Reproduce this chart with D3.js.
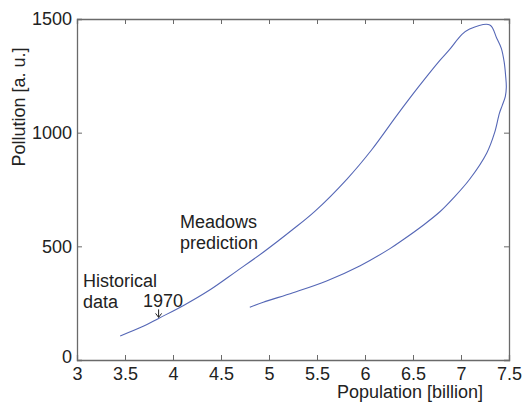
<!DOCTYPE html>
<html>
<head>
<meta charset="utf-8">
<script src="https://cdn.jsdelivr.net/npm/d3@7"></script>
<style>
  html, body { margin: 0; padding: 0; background: #fff; }
  svg { display: block; font-family: "Liberation Sans", Arial, sans-serif; }
</style>
</head>
<body>
<svg id="chart" width="526" height="403"></svg>
<script>
// Data
const population = [3.45, 3.69, 3.85, 4.11, 4.39, 4.66, 4.94, 5.25, 5.48, 5.81, 6.07, 6.33, 6.555, 6.78, 6.88, 7.01, 7.09, 7.30, 7.37, 7.42, 7.45, 7.465, 7.472, 7.462, 7.43, 7.40, 7.35, 7.27, 7.09, 6.92, 6.78, 6.61, 6.40, 6.26, 5.95, 5.60, 5.25, 4.94, 4.80];
const pollution  = [106, 148, 183, 240, 310, 390, 474, 575, 655, 795, 925, 1075, 1200, 1318, 1365, 1432, 1456, 1474, 1418, 1371, 1310, 1250, 1200, 1160, 1120, 1085, 1000, 912, 795, 712, 652, 594, 530, 490, 415, 348, 296, 254, 232];
const xTicks = [3, 3.5, 4, 4.5, 5, 5.5, 6, 6.5, 7, 7.5];
const yTicks = [0, 500, 1000, 1500];
const xLabel = "Population [billion]";
const yLabel = "Pollution [a. u.]";

(function () {
const svg = d3.select("#chart");
const mLeft = 77, mRight = 509, mTop = 19, mBottom = 360;
const x = d3.scaleLinear().domain([3, 7.5]).range([mLeft, mRight]);
const y = d3.scaleLinear().domain([0, 1500]).range([mBottom, mTop]);

const axisColor = "#6a6a6a";
const textColor = "#222";
const fs = 18;
const tickLen = 5;
const font = '"Liberation Sans", Arial, sans-serif';

// Curve
const pts = population.map((p, i) => [p, pollution[i]]);
svg.append("path")
  .datum(pts)
  .attr("fill", "none")
  .attr("stroke", "#5567b6")
  .attr("stroke-width", 1.1)
  .attr("d", d3.line().curve(d3.curveCatmullRom.alpha(0.5)).x(d => x(d[0])).y(d => y(d[1])));

// Axes: bottom, left, top, right (inward ticks)
const gB = svg.append("g").attr("transform", `translate(0,${mBottom})`)
  .call(d3.axisBottom(x).tickValues(xTicks).tickSize(-tickLen).tickPadding(9).tickFormat(d3.format("")));
const gL = svg.append("g").attr("transform", `translate(${mLeft},0)`)
  .call(d3.axisLeft(y).tickValues(yTicks).tickSize(-tickLen).tickPadding(6).tickFormat(d3.format("")));
const gT = svg.append("g").attr("transform", `translate(0,${mTop})`)
  .call(d3.axisTop(x).tickValues(xTicks).tickSize(-tickLen).tickFormat(""));
const gR = svg.append("g").attr("transform", `translate(${mRight},0)`)
  .call(d3.axisRight(y).tickValues(yTicks).tickSize(-tickLen).tickFormat(""));

[gB, gL, gT, gR].forEach(g => {
  g.select(".domain").attr("stroke", axisColor).attr("stroke-width", 1.3);
  g.selectAll(".tick line").attr("stroke", axisColor).attr("stroke-width", 1);
  g.selectAll("text").attr("fill", textColor).style("font-size", fs + "px").style("font-family", font);
});
gB.selectAll(".tick").filter(d => d === 3 || d === 7.5).select("line").remove();
gT.selectAll(".tick").filter(d => d === 3 || d === 7.5).select("line").remove();
gL.selectAll(".tick").filter(d => d === 0 || d === 1500).select("line").remove();
gR.selectAll(".tick").filter(d => d === 0 || d === 1500).select("line").remove();
gB.selectAll(".tick text").attr("dy", "0.71em").attr("y", 7);
gL.selectAll(".tick text").attr("x", -5);
gL.selectAll(".tick").filter(d => d === 0).select("text").attr("dy", "0.15em");

// Axis labels
svg.append("text")
  .attr("x", 483).attr("y", 398)
  .attr("text-anchor", "end")
  .attr("fill", textColor)
  .style("font-size", fs + "px")
  .text(xLabel);
svg.append("text")
  .attr("transform", "translate(25,107) rotate(-90)")
  .attr("text-anchor", "middle")
  .attr("fill", textColor)
  .style("font-size", fs + "px")
  .text(yLabel);

// Annotations
const ann = svg.append("g").attr("fill", textColor).style("font-size", fs + "px");
ann.append("text").attr("x", 180).attr("y", 228).text("Meadows");
ann.append("text").attr("x", 180).attr("y", 249).text("prediction");
ann.append("text").attr("x", 83).attr("y", 287).text("Historical");
ann.append("text").attr("x", 83).attr("y", 308).text("data");
ann.append("text").attr("x", 143).attr("y", 307).text("1970");

// Arrow to 1970 point
const ax = x(3.85), ay = y(183);
svg.append("line").attr("x1", ax).attr("x2", ax).attr("y1", ay - 9).attr("y2", ay - 1)
  .attr("stroke", textColor).attr("stroke-width", 1);
svg.append("path").attr("d", `M${ax - 3},${ay - 5} L${ax},${ay - 1} L${ax + 3},${ay - 5}`)
  .attr("fill", "none").attr("stroke", textColor).attr("stroke-width", 1);
})();
</script>
</body>
</html>
